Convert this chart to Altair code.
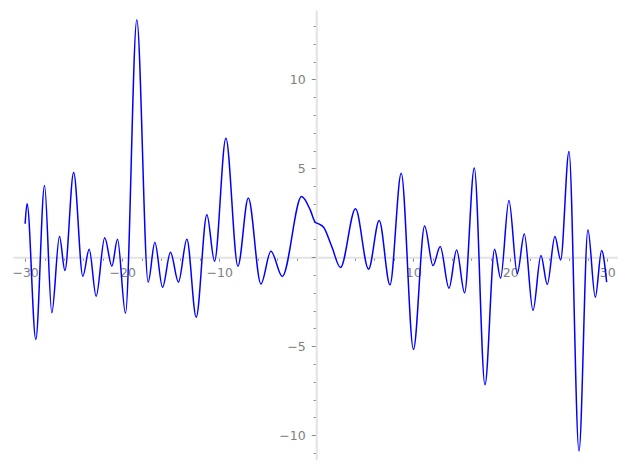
import altair as alt
import pandas as pd

xs = [-30.0, -29.8, -28.9, -28.0, -27.25, -26.46, -25.9, -25.0, -24.05, -23.4,
      -22.68, -21.8, -21.06, -20.48, -19.66, -18.49, -17.32, -16.63, -15.84, -15.02,
      -14.2, -13.33, -12.37, -11.27, -10.48, -9.31, -8.07, -7.0, -5.7, -4.67,
      -3.5, -1.51, -0.62, -0.1, 0.4, 0.76, 1.6, 2.5, 4.05, 5.39, 6.49, 7.6, 8.76,
      10.02, 11.17, 12.03, 12.78, 13.68, 14.47, 15.29, 16.29, 17.39, 18.38, 19.0,
      19.86, 20.72, 21.44, 22.34, 23.16, 23.81, 24.6, 25.19, 26.05, 27.08, 28.0,
      28.76, 29.41, 29.93]
ys = [1.88, 3.0, -4.62, 4.03, -3.12, 1.16, -0.75, 4.76, -1.07, 0.45,
      -2.19, 1.1, -0.5, 1.01, -3.15, 13.35, -1.40, 0.84, -1.69, 0.28,
      -1.40, 1.01, -3.37, 2.39, -0.22, 6.69, -0.5, 3.33, -1.5, 0.34,
      -1.08, 3.41, 2.66, 1.97, 1.84, 1.69, 0.6, -0.58, 2.72, -0.67, 2.06, -1.55, 4.72,
      -5.18, 1.76, -0.47, 0.6, -1.74, 0.41, -2.0, 5.02, -7.17, 0.45, -1.18,
      3.19, -0.92, 1.31, -2.99, 0.1, -1.53, 1.16, -0.15, 5.94, -10.9, 1.54,
      -2.25, 0.38, -1.4]

x_major = [-30, -20, -10, 0, 10, 20, 30]
x_minor = list(range(-30, 31, 2))
y_major = [-10, -5, 0, 5, 10]
y_minor = list(range(-11, 14))

XDOM = [-31.25, 31.1]
YDOM = [-11.4, 13.9]
W, H = 605, 450

# pixel offsets that move the axes to cross at the origin
y_axis_off = -(0 - XDOM[0]) / (XDOM[1] - XDOM[0]) * W
x_axis_off = -(0 - YDOM[0]) / (YDOM[1] - YDOM[0]) * H

df = pd.DataFrame({"x": xs, "y": ys})

FONT = "DejaVu Sans"
LBL = "#808080"

xscale = alt.Scale(domain=XDOM, nice=False, zero=False)
yscale = alt.Scale(domain=YDOM, nice=False, zero=False)

main = alt.Chart(df).mark_line(color="#0000ff", strokeWidth=1.5, interpolate="monotone").encode(
    x=alt.X("x:Q", scale=xscale, title=None,
            axis=alt.Axis(orient="bottom", offset=x_axis_off, values=x_major,
                          labelExpr="datum.value == 0 ? '' : datum.label",
                          domainColor="#e3e3e3", domainWidth=2,
                          tickColor="#888888", tickSize=4, tickWidth=1,
                          labelColor=LBL, labelFont=FONT, labelFontSize=12.5,
                          labelPadding=5, grid=False, labelFlush=False)),
    y=alt.Y("y:Q", scale=yscale, title=None,
            axis=alt.Axis(orient="left", offset=y_axis_off, values=y_major,
                          labelExpr="datum.value == 0 ? '' : datum.label",
                          domainColor="#e3e3e3", domainWidth=2,
                          tickColor="#888888", tickSize=5, tickWidth=1,
                          labelColor=LBL, labelFont=FONT, labelFontSize=12.5,
                          labelPadding=6, grid=False, labelFlush=False)),
)

minor = alt.Chart(df).mark_line(strokeOpacity=0).encode(
    x=alt.X("x:Q", scale=xscale, title=None,
            axis=alt.Axis(orient="bottom", offset=x_axis_off, values=x_minor,
                          labels=False, domain=False,
                          tickColor="#888888", tickSize=3, tickWidth=1, grid=False)),
    y=alt.Y("y:Q", scale=yscale, title=None,
            axis=alt.Axis(orient="left", offset=y_axis_off, values=y_minor,
                          labels=False, domain=False,
                          tickColor="#888888", tickSize=3, tickWidth=1, grid=False)),
)

chart = alt.layer(minor, main).resolve_axis(x="independent", y="independent").properties(
    width=W, height=H,
    autosize=alt.AutoSizeParams(type="none"),
    padding={"left": 5, "top": 2, "right": 0, "bottom": 0},
).configure_view(stroke=None)

chart.save("out.html", embed_options={"renderer": "svg", "actions": False})
